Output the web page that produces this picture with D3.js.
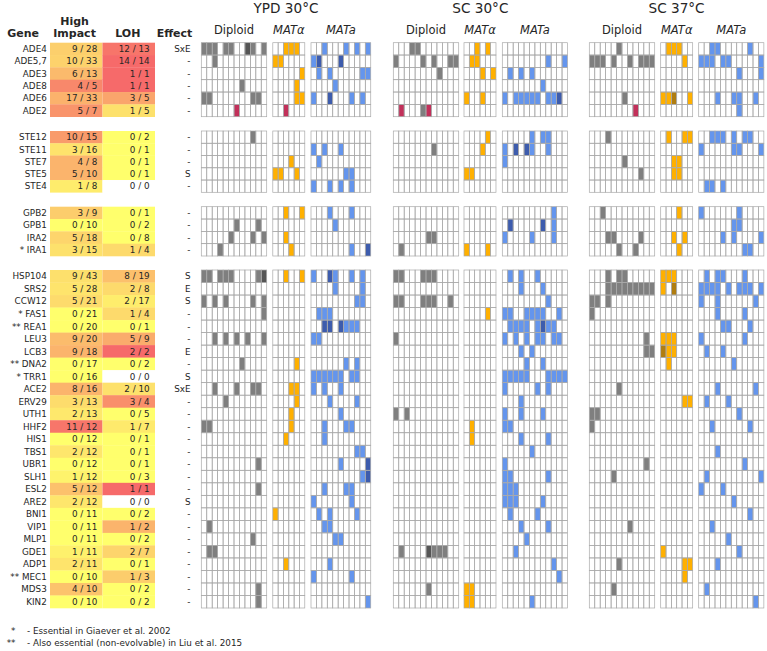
<!DOCTYPE html>
<html><head><meta charset="utf-8">
<script src="https://cdn.jsdelivr.net/npm/d3@7"></script>
<style>body{margin:0;background:#fff} svg{display:block} text{font-family:"DejaVu Sans",sans-serif}</style>
</head><body><svg id="c" width="767" height="651"></svg>
<script>
// ---------------- DATA ----------------
const groupSizes = [6, 5, 4, 27];
const genes = ["ADE4","ADE5,7","ADE3","ADE8","ADE6","ADE2",
  "STE12","STE11","STE7","STE5","STE4",
  "GPB2","GPB1","IRA2","* IRA1",
  "HSP104","SRS2","CCW12","* FAS1","** REA1","LEU3","LCB3","** DNA2","* TRR1","ACE2","ERV29","UTH1","HHF2","HIS1","TBS1","UBR1","SLH1","ESL2","ARE2","BNI1","VIP1","MLP1","GDE1","ADP1","** MEC1","MDS3","KIN2"];
const hiNum = [9,10,6,4,17,5, 10,3,4,5,1, 3,0,5,3, 9,5,5,0,0,9,9,0,0,8,3,2,11,0,2,0,1,5,2,0,0,0,1,2,0,4,0];
const hiDen = [28,33,13,5,33,7, 15,16,8,10,8, 9,10,18,15, 43,28,21,21,20,20,18,17,16,16,13,13,12,12,12,12,12,12,12,11,11,11,11,11,10,10,10];
const lohNum = [12,14,1,1,3,1, 0,0,0,0,0, 0,0,0,1, 8,2,2,1,0,5,2,0,0,2,3,0,1,0,0,0,0,1,0,0,1,0,2,0,1,0,0];
const lohDen = [13,14,1,1,5,5, 2,1,1,1,0, 1,2,8,4, 19,8,17,4,1,9,2,2,0,10,4,5,7,1,1,1,3,1,0,2,2,2,7,1,3,2,2];
const effects = ["SxE","-","-","-","-","-", "-","-","-","S","-", "-","-","-","-",
  "S","E","S","-","-","-","E","-","S","SxE","-","-","-","-","-","-","-","-","S","-","-","-","-","-","-","-","-"];
const conditions = ["YPD 30°C", "SC 30°C", "SC 37°C"];
const strains = ["Diploid", "MATα", "MATa"];
const footnotes = [["*", "- Essential in Giaever et al. 2002"], ["**", "- Also essential (non-evolvable) in Liu et al. 2015"]];

// cell codes: 0 empty, 1 mutation, 2 double (dark), 3 red
const ypdDiploid = ["111011002101","001000000000","000000000000","000000010000","110000000110","000000300000",
  "000000000100","000000000000","000000000000","000000000000","000000000000",
  "000000000000","000000100010","000001000101","000100000000",
  "110111000012","000000000000","101010000101","000000000001","000000000000","001010101001","000000000000","000000010000","000000000000",
  "001000100110","000010000000","000000000000","110000000000","000000000000","000000000000","000000000010","000000000000","000000000010","000000000000","000000000000","010000000000","000000000100","011000000000","000000000000","000000000000","000000000010","000000000010"];
const ypdAlpha = ["001110","110000","000001","000010","000011","003000",
  "000000","000000","000100","110010","000000",
  "001001","000000","001000","000100",
  "001001","000000","000000","000000","000000","000000","000000","000010","000000",
  "000110","000010","000100","000100","001000","000000","000000","000000","000000","000000","100000","000000","000000","000000","001000","000000","000000","000000"];
const ypdA = ["00100010101","12000200000","01010000011","00001000000","10020001010","00000000000",
  "00000000000","10100100000","01000000000","00000011000","10010101000",
  "00010001000","00001000000","00000000000","00000001002",
  "10021001010","00001000010","00000000110","01110000000","00220211100","11000000000","00000000000","00000010100","11111101100",
  "10100100000","00010000100","00000100000","00100011000","00100000000","00000000110","00000100002","00000000012","00100011000","10000001000","01010000100","00110000000","00001100000","00000000000","00010000000","10000001000","00000000000","00000000001"];
const sc30Diploid = ["000110000000","100001010011","000000001000","000000000000","000000000000","030001300000",
  "000000000000","000000010000","000000000000","000000000000","000000000000",
  "000000000000","000000000000","000000110000","010000000000",
  "110001110000","000000000000","110001110010","000000000000","000000000000","100000000000","000000000000","000000000000","000000000000",
  "000000000000","000000000000","101000000000","000000000000","000000000000","000000000000","000000000000","000000000000","000000000000","000000000000","000000000000","000000000000","000000000000","010000211100","000000000000","000000000000","000000100000","000000000000"];
const sc30Alpha = ["001010","011000","000101","000000","100100","000000",
  "000010","000100","000000","110000","000000",
  "000000","000000","000000","100010",
  "000000","000000","000000","000010","000000","000000","000000","000000","000000",
  "000000","000000","000000","010000","010000","000000","000000","000000","000000","000000","000000","000000","000000","000000","000000","000000","110000","110000"];
const sc30A = ["000000000000","000000001001","010101000000","000000010000","101111101120","000000000000",
  "000001011000","102021001000","100000000000","000000000000","000000000000",
  "000000000100","020000020100","100001000100","000000000000",
  "010100100000","000100010000","000000001000","110011110010","011110121100","101010110110","000101000000","000010010000","111110001111",
  "100000101000","000100000000","100100010000","110000000000","000100001000","000001000000","100000000000","110000001000","111000000000","111000010000","010000100000","000100001000","000010000000","001000000000","000000000100","000000000010","000000000000","000001000000"];
const sc37Diploid = ["000001000000","111010010111","000000000000","000000000000","000000100000","000000003000",
  "000100000000","000000000000","000000100000","000000000100","000000000000",
  "001000000000","000000000000","000110000100","000001001000",
  "000101100000","000111111111","110100000000","100000000000","000000000000","000000000010","000000000011","000000000000","000000000000",
  "000001000000","000000000000","110000000000","100000000000","000000000000","000000000000","000000000010","000010000000","000000000000","000000000000","000000000000","000000010000","000000000000","000000000000","000001000000","000000000000","000010000000","000000000000"];
const sc37Alpha = ["011100","000010","000000","000000","112001","000000",
  "010011","000000","001100","001100","000000",
  "000100","000000","001010","000100",
  "111000","102000","000000","000000","000000","111000","211000","010000","000000",
  "000000","000011","000000","000000","000000","000000","000000","000000","000000","000000","000000","000000","000000","100000","000011","000010","000000","000000"];
const sc37A = ["001100000100","111011000001","000000010001","000000000000","000100110010","000000010000",
  "001110101100","100000110001","000000000000","000000000000","011010000000",
  "100000010000","000000110000","000010100001","000000001100",
  "010110001000","111101011101","100100000010","000100001000","000011000100","100000001000","010010000000","000000100000","000000000000",
  "000100000010","010001000000","000000010000","001000000100","000000000000","000100000000","000000001000","010000000001","100010000000","000000100000","000000000100","001000000000","000001000000","000000010000","000100000000","000000000000","010000000000","000000000010"];

const grids = [[ypdDiploid, ypdAlpha, ypdA], [sc30Diploid, sc30Alpha, sc30A], [sc37Diploid, sc37Alpha, sc37A]];

// ---------------- LAYOUT ----------------
const svg = d3.select("#c");
const groupExtents = [[42.7,116.7],[131,192.3],[206.7,256],[270,608]];
const blockX = [[201.3,272.8,311],[393.3,464,502.3],[589.3,660.7,698.7]];
const cellW = [5.45, 5.33, 5.43];
const colors = [
  {1:"#7f7f7f",2:"#555555",3:"#c2305a"},
  {1:"#ffb000",2:"#b07d10",3:"#c2305a"},
  {1:"#6495ed",2:"#3d5cad",3:"#c2305a"}];

const rowY = [], rowH = [];
let start = 0;
groupSizes.forEach((n, g) => {
  const idx = d3.range(start, start + n);
  const y = d3.scaleBand().domain(idx).range(groupExtents[g]).paddingInner(0);
  idx.forEach(i => { rowY[i] = y(i); rowH[i] = y.bandwidth(); });
  start += n;
});
const rows = d3.range(genes.length);

// ---------- table ----------
const fracColor = d3.scaleLinear().domain([0, 0.5, 1]).range(["#ffff6c", "#fbb46c", "#f66a6a"]);
const colHI = d3.scaleBand().domain(["hi","loh"]).range([50, 155]);
function cellColor(n, d){ return d === 0 ? "#ffffff" : fracColor(n/d); }

const tbl = svg.append("g");
tbl.selectAll("rect.hi").data(rows).join("rect")
  .attr("x", colHI("hi")).attr("y", i => rowY[i]).attr("width", colHI.bandwidth()).attr("height", i => rowH[i] + 0.3)
  .attr("fill", i => cellColor(hiNum[i], hiDen[i]));
tbl.selectAll("rect.loh").data(rows).join("rect")
  .attr("x", colHI("loh")).attr("y", i => rowY[i]).attr("width", colHI.bandwidth()).attr("height", i => rowH[i] + 0.3)
  .attr("fill", i => cellColor(lohNum[i], lohDen[i]));

const fs = 8.8;
function rowText(xPos, fn){
  tbl.append("g").selectAll("text").data(rows).join("text")
    .attr("x", xPos).attr("y", i => rowY[i] + rowH[i]/2 + 3.2)
    .attr("text-anchor", "end").attr("font-size", fs).attr("fill", "#262626")
    .text(fn);
}
rowText(46.8, i => genes[i]);
rowText(97.3, i => hiNum[i] + " / " + hiDen[i]);
rowText(149.6, i => lohNum[i] + " / " + lohDen[i]);
rowText(190.5, i => effects[i]);

const hdr = svg.append("g").attr("font-weight", "bold").attr("font-size", 11).attr("fill", "#262626").attr("text-anchor", "middle");
hdr.append("text").attr("x", 23.2).attr("y", 36.8).text("Gene");
hdr.append("text").attr("x", 74.6).attr("y", 25).text("High");
hdr.append("text").attr("x", 74.6).attr("y", 36.8).text("Impact");
hdr.append("text").attr("x", 127.8).attr("y", 36.8).text("LOH");
hdr.append("text").attr("x", 174.5).attr("y", 36.8).text("Effect");

// ---------- grids ----------
grids.forEach((cond, c) => {
  const blocks = svg.append("g");
  cond.forEach((data, b) => {
    const nCols = data[0].length;
    const x0 = blockX[c][b];
    const x = d3.scaleBand().domain(d3.range(nCols)).range([x0, x0 + nCols * cellW[b]]);
    const cells = [];
    rows.forEach(i => { for (let j = 0; j < nCols; j++) cells.push({i, j, v: +data[i][j]}); });
    const g = blocks.append("g");
    g.selectAll("rect.f").data(cells.filter(d => d.v > 0)).join("rect")
      .attr("x", d => x(d.j)).attr("y", d => rowY[d.i]).attr("width", x.bandwidth()).attr("height", d => rowH[d.i])
      .attr("fill", d => colors[b][d.v]);
    g.selectAll("rect.g").data(cells).join("rect")
      .attr("x", d => x(d.j)).attr("y", d => rowY[d.i]).attr("width", x.bandwidth()).attr("height", d => rowH[d.i])
      .attr("fill", "none").attr("stroke", "#a9a9a9").attr("stroke-width", 0.7);
    const mid = x0 + nCols * cellW[b] / 2;
    g.append("text").attr("x", mid).attr("y", 34.3).attr("text-anchor", "middle")
      .attr("font-size", 11.5).attr("fill", "#262626")
      .attr("font-style", b === 0 ? "normal" : "italic").text(strains[b]);
  });
  const xl = blockX[c][0], xr = blockX[c][2] + grids[c][2][0].length * cellW[2];
  svg.append("text").attr("x", (xl + xr)/2).attr("y", 12.7).attr("text-anchor", "middle")
    .attr("font-size", 13.6).attr("fill", "#262626").text(conditions[c]);
});

const fn = svg.append("g").attr("font-size", 8.8).attr("fill", "#262626");
footnotes.forEach((f, k) => {
  fn.append("text").attr("x", 15.5).attr("y", 633.5 + k * 12.6).attr("text-anchor", "end").text(f[0]);
  fn.append("text").attr("x", 27).attr("y", 633.5 + k * 12.6).text(f[1]);
});
</script></body></html>
